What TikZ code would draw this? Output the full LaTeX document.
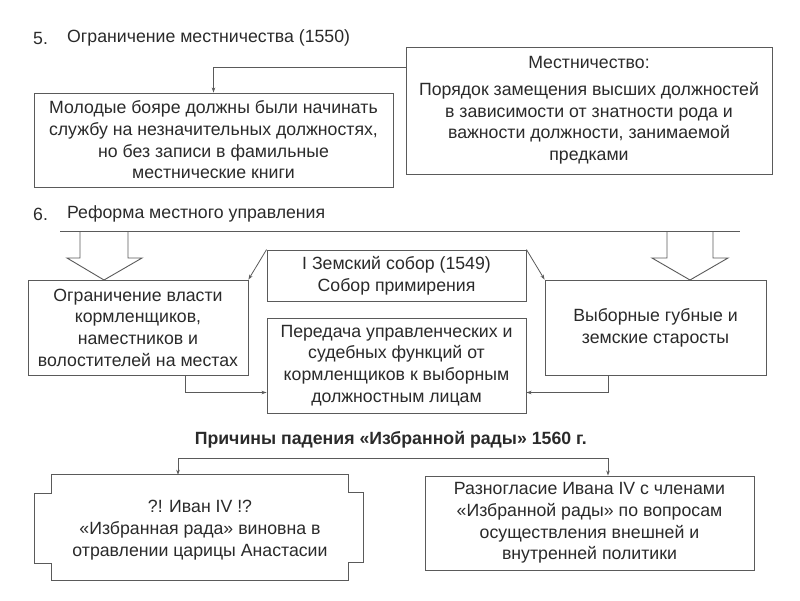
\documentclass[tikz,border=0pt]{standalone}
\usepackage{fontspec}
\setmainfont{Liberation Sans}
\usepackage{tikz}
\usetikzlibrary{arrows.meta,positioning,calc}
\definecolor{inkgray}{HTML}{2A2A2A}
\definecolor{linegray}{HTML}{5A5A5A}

\begin{document}
\begin{tikzpicture}[
  x=1pt, y=-1pt,
  font=\fontsize{17.7}{21.7}\selectfont,
  textbox/.style={
    draw=linegray,
    line width=0.9pt,
    fill=white,
    align=center,
    text=inkgray,
    inner sep=2pt
  },
  plainbox/.style={
    align=center,
    text=inkgray,
    inner sep=2pt
  },
  heading/.style={
    anchor=west,
    text=inkgray,
    inner sep=0pt
  },
  conn/.style={
    -{Stealth[length=5pt,width=3.5pt]},
    line width=0.8pt,
    draw=linegray
  },
  rule/.style={
    line width=0.8pt,
    draw=linegray
  },
  bigarrow/.style={
    line width=0.9pt,
    draw=linegray,
    fill=white
  }
]
  \useasboundingbox (0,0) rectangle (800,600);

  % =========================================================================
  % 5. MESTNICHESTVO
  % =========================================================================
  \node[heading] (num5) at (33,38) {5.};
  \node[heading] (title5) at (67,38) {Ограничение местничества (1550)};

  \node[textbox, minimum width=366pt, minimum height=127pt] (mest) at (589,110.5) {
    Местничество:\\[5pt]
    Порядок замещения высших должностей\\
    в зависимости от знатности рода и\\
    важности должности, занимаемой\\
    предками
  };

  \node[textbox, minimum width=359pt, minimum height=94pt] (young) at (213.5,140) {
    Молодые бояре должны были начинать\\
    службу на незначительных должностях,\\
    но без записи в фамильные\\
    местнические книги
  };

  \draw[conn] ([yshift=-21pt]mest.north west) -| (young.north);

  % =========================================================================
  % 6. LOCAL REFORM
  % =========================================================================
  \node[heading] (num6) at (33,214) {6.};
  \node[heading] (title6) at (67,214) {Реформа местного управления};

  \node[textbox, minimum width=220pt, minimum height=95pt] (limit) at (138,327.5) {
    Ограничение власти\\
    кормленщиков,\\
    наместников и\\
    волостителей на местах
  };

  \node[textbox, minimum width=259pt, minimum height=51pt] (sobor) at (396.5,275.5) {
    I Земский собор (1549)\\
    Собор примирения
  };

  \node[textbox, minimum width=259pt, minimum height=95pt] (pered) at (396.5,365.5) {
    Передача управленческих и\\
    судебных функций от\\
    кормленщиков к выборным\\
    должностным лицам
  };

  \node[textbox, minimum width=221pt, minimum height=95pt] (vybor) at (655.5,327.5) {
    Выборные губные и\\
    земские старосты
  };

  % hollow arrows from the bar
  \coordinate (tipL) at (104,280);
  \coordinate (tipR) at (690,280);
  \draw[bigarrow] (tipL) ++(-24,-49) -- ++(0,27) -- ++(-13,0) -- (tipL)
    -- ++(38,-22) -- ++(-14,0) -- ++(0,-27);
  \draw[bigarrow] (tipR) ++(-23,-49) -- ++(0,27) -- ++(-15,0) -- (tipR)
    -- ++(38,-22) -- ++(-15,0) -- ++(0,-27);

  \coordinate (barL) at (60,231);
  \coordinate (barR) at (740,231);
  \draw[rule] (barL) -- (barR);

  \draw[conn] (sobor.north west) -- (limit.north east);
  \draw[conn] (sobor.north east) -- (vybor.north west);
  \draw[conn] ([xshift=47pt]limit.south) |- ([yshift=-27pt]pered.west);
  \draw[conn] ([xshift=-47.5pt]vybor.south) |- ([yshift=-27pt]pered.east);

  % =========================================================================
  % FALL OF THE CHOSEN COUNCIL
  % =========================================================================
  \node[plainbox, font=\fontsize{17.7}{21.7}\selectfont\bfseries] (causes) at (394,440) {
    Причины падения «Избранной рады» 1560 г.
  };

  \node[plainbox, minimum width=296pt, minimum height=105pt] (rada) at (200,527.5) {};
  \draw[bigarrow] (rada.north west) -- (rada.north east)
    -- ++(0,18) -- ++(15,0) -- ++(0,70) -- ++(-15,0) -- (rada.south east)
    -- (rada.south west) -- ++(0,-17) -- ++(-17,0) -- ++(0,-70) -- ++(17,0) -- cycle;
  \node[plainbox] (radatext) at (200,530) {
    ?! Иван IV !?\\
    «Избранная рада» виновна в\\
    отравлении царицы Анастасии
  };

  \node[textbox, minimum width=329pt, minimum height=94pt] (razn) at (589.5,523) {
    Разногласие Ивана IV с членами\\
    «Избранной рады» по вопросам\\
    осуществления внешней и\\
    внутренней политики
  };

  \coordinate (forkL) at (178,458);
  \coordinate (forkR) at (608,458);
  \draw[rule] (forkL) -- (forkR);
  \draw[conn] (forkL) -- (forkL |- rada.north);
  \draw[conn] (forkR) -- (forkR |- razn.north);

\end{tikzpicture}
\end{document}
